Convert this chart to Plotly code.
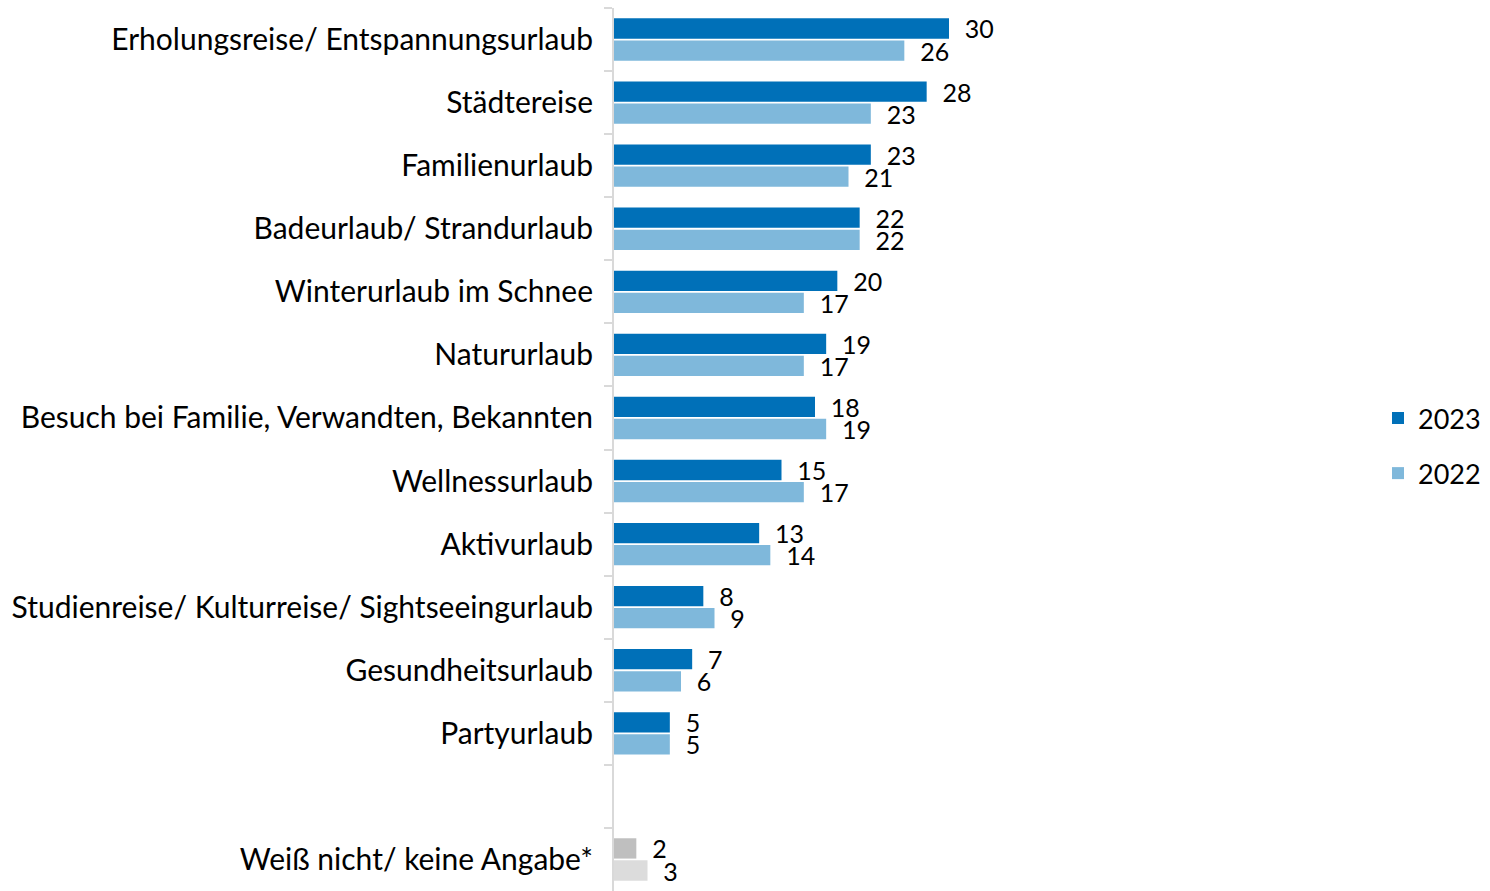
import plotly.graph_objects as go

categories = [
    "Erholungsreise/ Entspannungsurlaub",
    "Städtereise",
    "Familienurlaub",
    "Badeurlaub/ Strandurlaub",
    "Winterurlaub im Schnee",
    "Natururlaub",
    "Besuch bei Familie, Verwandten, Bekannten",
    "Wellnessurlaub",
    "Aktivurlaub",
    "Studienreise/ Kulturreise/ Sightseeingurlaub",
    "Gesundheitsurlaub",
    "Partyurlaub",
    " ",
    "Weiß nicht/ keine Angabe*",
]
values_2023 = [30, 28, 23, 22, 20, 19, 18, 15, 13, 8, 7, 5, None, 2]
values_2022 = [26, 23, 21, 22, 17, 17, 19, 17, 14, 9, 6, 5, None, 3]

C23, C22 = "#0070B8", "#7FB8DB"
G23, G22 = "#BFBFBF", "#DCDCDC"
colors_2023 = [G23 if c.startswith("Weiß") else C23 for c in categories]
colors_2022 = [G22 if c.startswith("Weiß") else C22 for c in categories]

FONT = "Lato"
FS_NUM = 25
FS_TICK = 30
FS_LEG = 27

def labels(vals):
    return ["" if v is None else f"  {v}" for v in vals]

fig = go.Figure()
fig.add_trace(go.Bar(
    name="2023", y=categories, x=values_2023, orientation="h",
    marker=dict(color=colors_2023, line=dict(width=0)),
    text=labels(values_2023), textposition="outside", cliponaxis=False,
    textfont=dict(family=FONT, size=FS_NUM, color="#000000"),
    constraintext="none", legendgroup="a", hoverinfo="skip",
))
fig.add_trace(go.Bar(
    name="2022", y=categories, x=values_2022, orientation="h",
    marker=dict(color=colors_2022, line=dict(width=0)),
    text=labels(values_2022), textposition="outside", cliponaxis=False,
    textfont=dict(family=FONT, size=FS_NUM, color="#000000"),
    constraintext="none", legendgroup="b", hoverinfo="skip",
))

W, H = 1490, 891
L, R = 614, 120
plot_w = W - L - R
px_per_unit = (949 - 614) / 30.0
xmax = plot_w / px_per_unit

fig.update_layout(
    width=W, height=H,
    margin=dict(l=L, r=R, t=8, b=0, pad=0, autoexpand=False),
    paper_bgcolor="white", plot_bgcolor="white",
    barmode="group", bargap=0.3, bargroupgap=0.08,
    font=dict(family=FONT, size=FS_NUM, color="#000000"),
    showlegend=True,
    legend=dict(
        xref="container", x=1378 / W, xanchor="left",
        y=0.504, yanchor="middle",
        font=dict(family=FONT, size=FS_LEG, color="#000000"),
        traceorder="grouped", tracegroupgap=17,
        itemwidth=30, bgcolor="rgba(0,0,0,0)",
    ),
    uniformtext=dict(mode=False),
)
fig.update_xaxes(range=[0, xmax], visible=False, fixedrange=True, automargin=False)
fig.update_yaxes(
    type="category", categoryorder="array", categoryarray=categories,
    autorange="reversed", automargin=False,
    showline=True, linecolor="#D9D9D9", linewidth=2,
    ticks="outside", tickson="boundaries", ticklen=8, tickcolor="#D9D9D9", tickwidth=2,
    showgrid=False, ticklabelstandoff=13,
    tickfont=dict(family=FONT, size=FS_TICK, color="#000000"),
    fixedrange=True,
)

fig.write_html(
    "out.html",
    config={"displayModeBar": False, "staticPlot": True},
    post_script="document.body.style.margin='0';document.body.style.overflow='hidden';",
)
